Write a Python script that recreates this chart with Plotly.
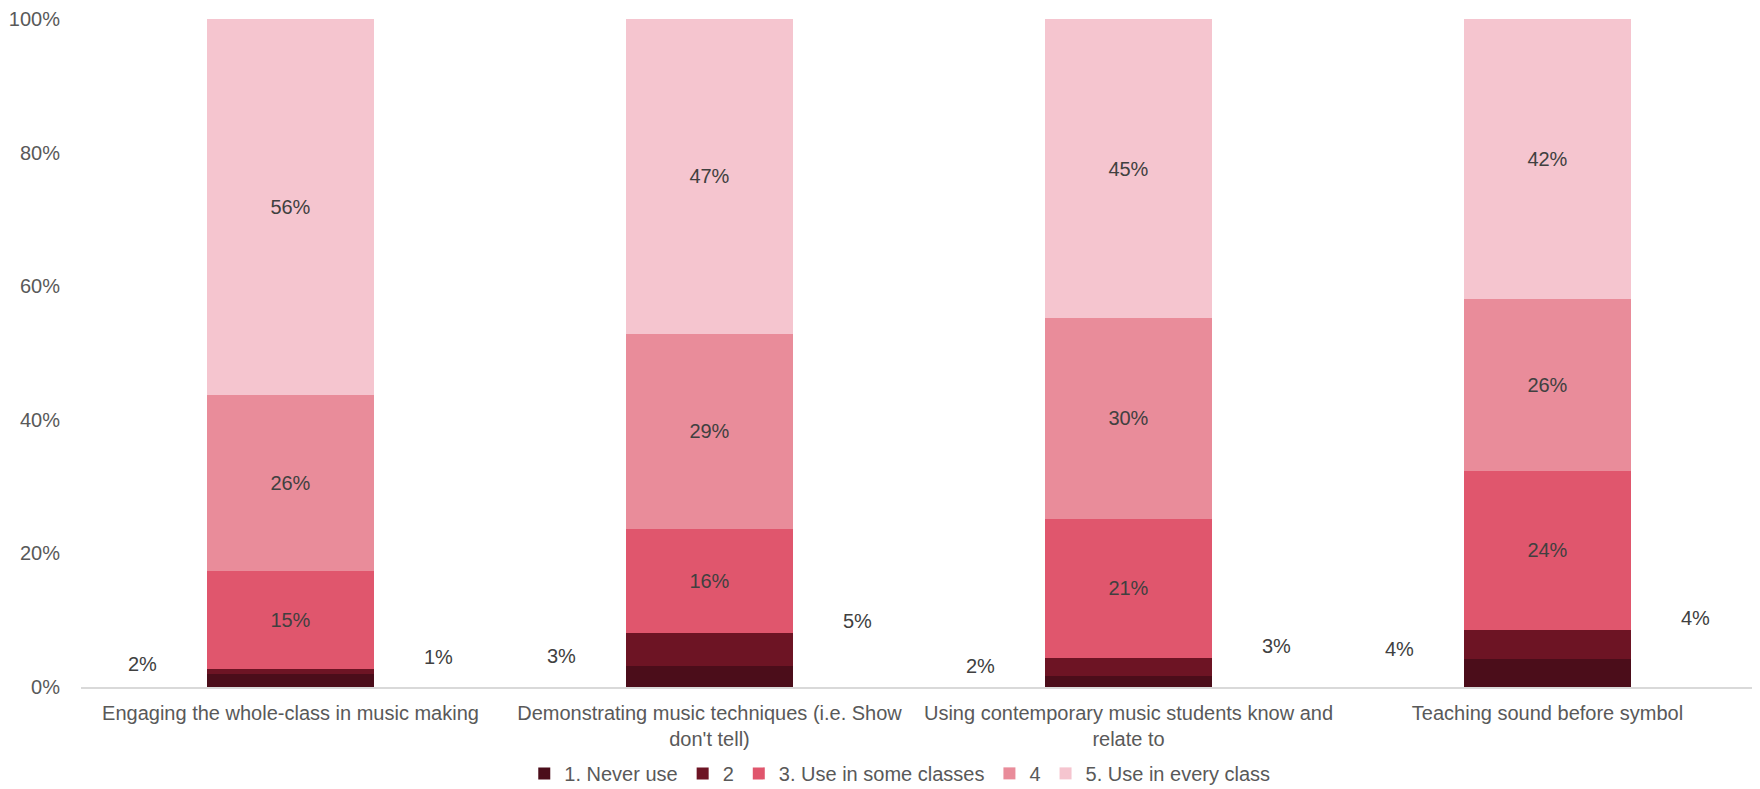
import plotly.graph_objects as go

categories = [
    "Engaging the whole-class in music making",
    "Demonstrating music techniques (i.e. Show<br>don't tell)",
    "Using contemporary music students know and<br>relate to",
    "Teaching sound before symbol",
]
series_names = ["1. Never use", "2", "3. Use in some classes", "4", "5. Use in every class"]
never_use = [2.0, 3.2, 1.7, 4.2]
level_2 = [0.7, 4.9, 2.7, 4.4]
some_classes = [14.7, 15.6, 20.8, 23.7]
level_4 = [26.3, 29.2, 30.0, 25.8]
every_class = [56.3, 47.1, 44.8, 41.9]
series_values = [never_use, level_2, some_classes, level_4, every_class]
colors = ["#4B0D1A", "#6D1424", "#E0566D", "#E98C9A", "#F5C5CF"]
y_ticks = [0, 20, 40, 60, 80, 100]

FONT = "Liberation Sans, Arial, sans-serif"
TEXT_COLOR = "#595959"
FS = 20

fig = go.Figure()
for i, (name, vals) in enumerate(zip(series_names, series_values)):
    show_text = i >= 2
    fig.add_trace(go.Bar(
        name=name,
        x=categories,
        y=vals,
        marker=dict(color=colors[i], line=dict(width=0)),
        text=[f"{v:.0f}%" for v in vals] if show_text else None,
        textposition="inside" if show_text else "none",
        insidetextanchor="middle",
        textangle=0,
        constraintext="none",
        textfont=dict(family=FONT, size=FS, color="#404040"),
        width=0.4,
    ))

# side labels for the two smallest series
for j, cat in enumerate(categories):
    top1 = never_use[j]
    top2 = never_use[j] + level_2[j]
    fig.add_annotation(x=cat, y=top1, text=f"{never_use[j]:.0f}%", showarrow=False,
                       xshift=-148, yshift=10,
                       font=dict(family=FONT, size=FS, color="#404040"))
    fig.add_annotation(x=cat, y=top2, text=f"{level_2[j]:.0f}%", showarrow=False,
                       xshift=148, yshift=12,
                       font=dict(family=FONT, size=FS, color="#404040"))

fig.update_layout(
    barmode="stack",
    width=1752, height=781,
    margin=dict(l=73, r=3, t=11, b=102, autoexpand=False),
    plot_bgcolor="white",
    paper_bgcolor="white",
    font=dict(family=FONT, size=FS, color=TEXT_COLOR),
    legend=dict(orientation="h", x=0.509, xref="container", xanchor="center",
                y=0.02, yref="container", yanchor="middle",
                font=dict(family=FONT, size=FS, color=TEXT_COLOR),
                itemwidth=30, traceorder="normal", tracegroupgap=0),
    showlegend=True,
)
fig.update_xaxes(showgrid=False, showline=True, linecolor="#D9D9D9", linewidth=2,
                 ticks="", tickangle=0, automargin=False, ticklabelstandoff=7,
                 tickfont=dict(family=FONT, size=FS, color=TEXT_COLOR))
fig.update_yaxes(range=[0, 100], tickvals=y_ticks, ticktext=[f"{t}%" for t in y_ticks],
                 showgrid=False, zeroline=False, showline=False, ticks="",
                 ticklabelstandoff=20, automargin=False,
                 tickfont=dict(family=FONT, size=FS, color=TEXT_COLOR))

fig.write_html("out.html")
